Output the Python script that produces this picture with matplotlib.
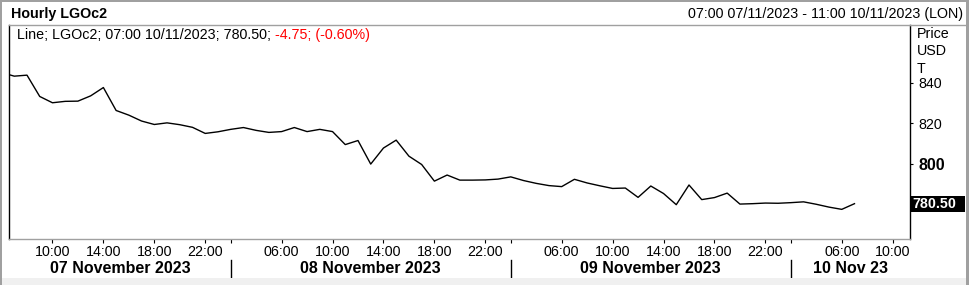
import matplotlib.pyplot as plt
from matplotlib.lines import Line2D
from matplotlib.patches import Rectangle
import matplotlib.transforms as mtransforms

plt.rcParams['font.family'] = ['Liberation Sans', 'DejaVu Sans']

# hourly bars, 22 per trading day; position = day*22 + (hour-1)
positions = list(range(5, 73))
prices = [845.1, 843.3, 843.8, 833.3, 830.2, 830.9, 831.0, 833.6, 837.7, 826.4,
          824.1, 821.2, 819.5, 820.3, 819.4, 818.1, 815.1, 815.9, 817.1, 818.0,
          816.6, 815.6, 816.0, 818.0, 816.0, 817.1, 816.0, 809.6, 811.6, 800.0,
          807.9, 811.8, 803.9, 799.8, 791.6, 794.6, 792.1, 792.1, 792.2, 792.6,
          793.7, 791.9, 790.5, 789.4, 788.9, 792.5, 790.7, 789.3, 788.0, 788.2,
          783.6, 789.2, 785.5, 780.0, 789.7, 782.5, 783.5, 785.7, 780.3, 780.5,
          780.8, 780.7, 781.0, 781.4, 780.2, 778.8, 777.7, 780.5]

hour_ticks = [9, 13, 17, 21, 27, 31, 35, 39, 43, 49, 53, 57, 61, 65, 71, 75]
hour_labels = ['10:00', '14:00', '18:00', '22:00', '06:00', '10:00', '14:00', '18:00', '22:00',
               '06:00', '10:00', '14:00', '18:00', '22:00', '06:00', '10:00']
day_breaks = [23, 45, 67]
day_labels = ['07 November 2023', '08 November 2023', '09 November 2023', '10 Nov 23']
price_ticks = [800, 820, 840]
last_price = 780.50

W, H = 969, 285
fs = 10.3
fig = plt.figure(figsize=(W / 100, H / 100), dpi=100)

x0, x1 = 5.61, 76.36
y0, y1 = 763.1, 868.5
ax = fig.add_axes([9.3 / W, 1 - 239 / H, (910 - 9.3) / W, (239 - 25) / H])
ax.plot(positions, prices, color='black', lw=1.0)
ax.set_xlim(x0, x1)
ax.set_ylim(y0, y1)

for side in ['left', 'right']:
    ax.spines[side].set_color('black')
    ax.spines[side].set_linewidth(1.0)
for side in ['top', 'bottom']:
    ax.spines[side].set_color('#a0a0a0')
    ax.spines[side].set_linewidth(1.0)

# x axis
ax.set_xticks(hour_ticks)
ax.set_xticklabels(hour_labels)
ax.set_xticks(day_breaks, minor=True)
ax.tick_params(axis='x', which='both', direction='out', length=3, width=0.8,
               color='black', pad=1, labelsize=fs)

trans = mtransforms.blended_transform_factory(ax.transData, ax.transAxes)
for xb in day_breaks:
    ax.add_line(Line2D([xb, xb], [-0.098, -0.185], transform=trans, color='black',
                       lw=1.0, clip_on=False))
edges = [x0] + day_breaks + [x1]
for i, lab in enumerate(day_labels):
    ax.text((edges[i] + edges[i + 1]) / 2, -0.137, lab, transform=trans, ha='center',
            va='center', fontsize=11.5, fontweight='bold')

# y axis on the right
ax.yaxis.tick_right()
ax.set_yticks(price_ticks)
ax.set_yticklabels([str(v) for v in price_ticks])
ax.tick_params(axis='y', direction='out', length=2.5, width=0.8, pad=3.5, labelsize=fs)
for lab in ax.get_yticklabels():
    if lab.get_text() == '800':
        lab.set_fontweight('bold')
        lab.set_fontsize(11.5)

# last price box
ypx = 239 - (last_price - y0) / (y1 - y0) * 214
fig.add_artist(Rectangle((910.5 / W, 1 - (ypx + 8) / H), (965 - 910.5) / W, 16 / H,
                         transform=fig.transFigure, fc='black', ec='none', zorder=5))
fig.text(912 / W, 1 - ypx / H, f'{last_price:.2f}', ha='left', va='center',
         fontsize=fs, fontweight='bold', color='white', zorder=6)

for txt, yp in [('Price', 33.5), ('USD', 51), ('T', 69.3)]:
    fig.text(916.5 / W, 1 - yp / H, txt, ha='left', va='center', fontsize=fs)

# legend line inside the plot
t1 = ax.text(17.3 / W, 1 - 34.7 / H, 'Line; LGOc2; 07:00 10/11/2023; 780.50; ',
             transform=fig.transFigure, ha='left', va='center', fontsize=fs)
ax.annotate('-4.75; (-0.60%)', xy=(1, 0.5), xycoords=t1, ha='left', va='center',
            fontsize=fs, color='#ff0000')

# header
fig.text(11 / W, 1 - 14 / H, 'Hourly LGOc2', ha='left', va='center', fontsize=fs,
         fontweight='bold')
fig.text(963.5 / W, 1 - 14 / H, '07:00 07/11/2023 - 11:00 10/11/2023 (LON)', ha='right',
         va='center', fontsize=fs)
fig.add_artist(Line2D([910 / W, 965 / W], [1 - 25 / H, 1 - 25 / H],
                      transform=fig.transFigure, color='#a0a0a0', lw=1.0))

# outer frame
fig.add_artist(Rectangle((0, 0), 2 / W, 1, transform=fig.transFigure, fc='#a0a0a0', ec='none'))
fig.add_artist(Rectangle((0, 1 - 1.5 / H), 1, 1.5 / H, transform=fig.transFigure,
                         fc='#a0a0a0', ec='none'))
fig.add_artist(Rectangle((966 / W, 0), 3 / W, 1, transform=fig.transFigure, fc='#a0a0a0', ec='none'))
fig.add_artist(Rectangle((2 / W, 0), 964 / W, 7 / H, transform=fig.transFigure,
                         fc='#f0f0f0', ec='none'))

fig.savefig('out.png', dpi=100)
